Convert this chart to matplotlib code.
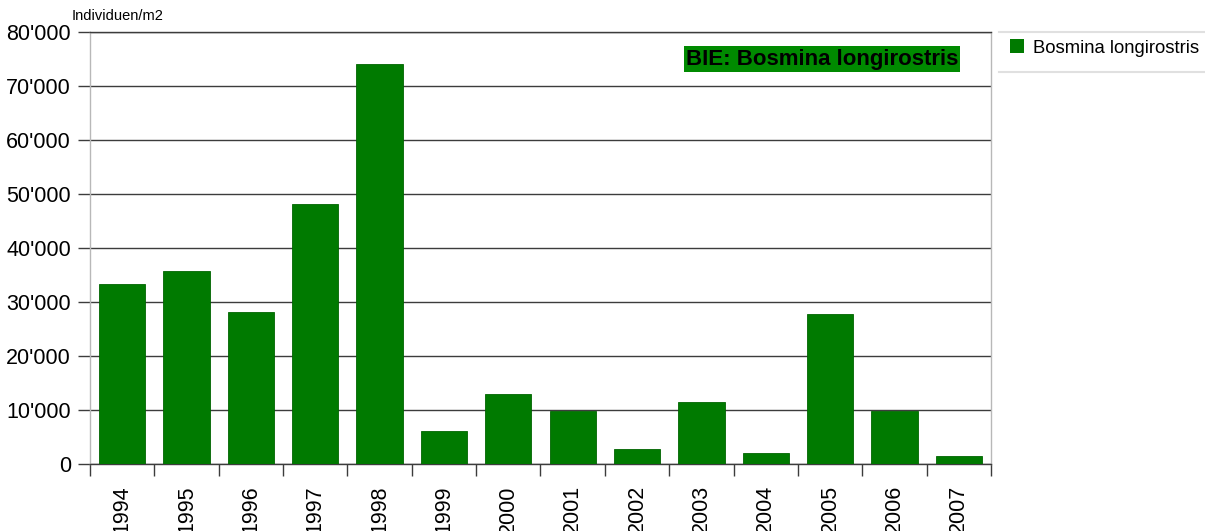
import matplotlib
matplotlib.use('Agg')
import matplotlib.pyplot as plt
from matplotlib.ticker import FuncFormatter, FixedLocator
from matplotlib.lines import Line2D
from matplotlib.patches import Patch

plt.rcParams['font.family'] = ['Liberation Sans', 'DejaVu Sans']

years = ['1994', '1995', '1996', '1997', '1998', '1999', '2000',
         '2001', '2002', '2003', '2004', '2005', '2006', '2007']
values = [33400, 35800, 28200, 48200, 74100, 6200, 13100,
          9800, 2800, 11500, 2100, 27900, 9800, 1500]
series_name = 'Bosmina longirostris'
chart_title = 'BIE: Bosmina longirostris'
y_unit = 'Individuen/m2'

BAR_COLOR = '#007a00'
GRID_COLOR = '#3c3c3c'
LIGHT = '#b8b8b8'

W, H = 1205, 531
fig = plt.figure(figsize=(W / 100, H / 100), dpi=100)
ax = fig.add_axes([90 / W, (H - 464.3) / H, (991 - 90) / W, (464.3 - 32) / H])

x = list(range(len(years)))
ax.bar(x, values, width=0.72, color=BAR_COLOR, edgecolor='#006400', linewidth=0.6, zorder=3)

ax.set_xlim(-0.5, len(years) - 0.5)
ax.set_ylim(0, 80000)

# y axis
ax.set_yticks(range(0, 80001, 10000))
ax.yaxis.set_major_formatter(FuncFormatter(lambda v, p: f"{int(v):,}".replace(',', "'")))
ax.tick_params(axis='y', direction='out', length=8.6, width=1, color=GRID_COLOR,
               labelsize=15.5, pad=5)
ax.grid(axis='y', color=GRID_COLOR, linewidth=1, zorder=1)

# x axis: labels at centres, tick marks at boundaries
ax.set_xticks(x)
ax.set_xticklabels(years, rotation=90, fontsize=15.5)
ax.tick_params(axis='x', which='major', length=0, pad=15)
ax.xaxis.set_minor_locator(FixedLocator([i - 0.5 for i in range(len(years) + 1)]))
ax.tick_params(axis='x', which='minor', direction='out', length=8.6, width=1, color=GRID_COLOR)

for s in ['left', 'right']:
    ax.spines[s].set_color(LIGHT)
    ax.spines[s].set_linewidth(1)
for s in ['top', 'bottom']:
    ax.spines[s].set_color(GRID_COLOR)
    ax.spines[s].set_linewidth(1)

# title box
ax.text(822 / W, (H - 59) / H, chart_title, transform=fig.transFigure,
        ha='center', va='center', fontsize=16, fontweight='bold', color='black',
        bbox=dict(boxstyle='square,pad=0.1', facecolor='#008a00', edgecolor='none'),
        zorder=5)

# unit label
fig.text(72 / W, (H - 16) / H, y_unit, fontsize=10.5, ha='left', va='center')

# legend
handle = Patch(facecolor=BAR_COLOR, edgecolor='none')
fig.legend([handle], [series_name], loc='center left',
           bbox_to_anchor=(1010 / W, (H - 48) / H), frameon=False, fontsize=13.3,
           handlelength=0.75, handleheight=0.75, handletextpad=0.5, borderpad=0,
           borderaxespad=0)
fig.add_artist(Line2D([999 / W, 1], [(H - 32) / H] * 2, color='#e0e0e0', lw=1.5))
fig.add_artist(Line2D([999 / W, 1], [(H - 72) / H] * 2, color='#e0e0e0', lw=1.5))

fig.savefig('out.png', dpi=100)
